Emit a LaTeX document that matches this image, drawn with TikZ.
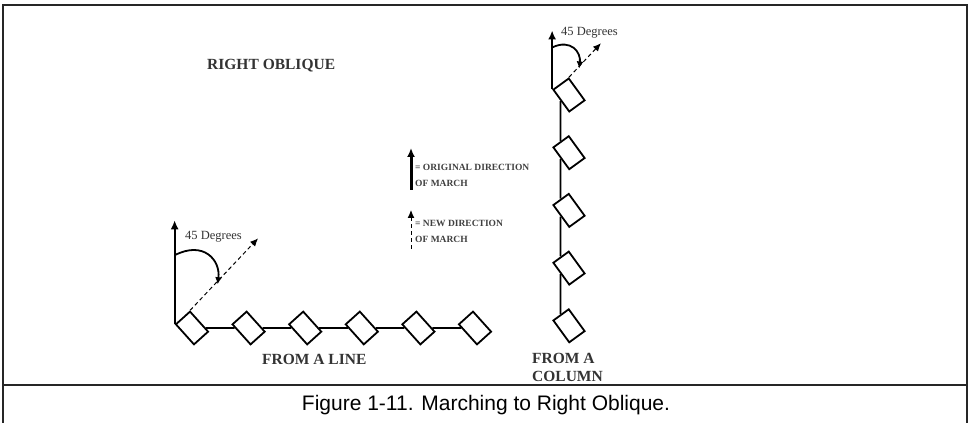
\documentclass[tikz,border=0pt]{standalone}
\usepackage{fontspec}
\setmainfont{Liberation Serif}
\newfontfamily\captionfont{Liberation Sans}
\usetikzlibrary{positioning,arrows.meta}

\tikzset{
  soldier/.style={draw, fill=white, line width=1.8pt, rectangle, inner sep=0pt},
  rank/.style={soldier, minimum width=27pt, minimum height=19pt, rotate=-48},
  file/.style={soldier, minimum width=27pt, minimum height=19pt, rotate=-54},
  link/.style={line width=1.8pt},
  march/.style={line width=2pt, -{Latex[length=9pt,width=8pt]}},
  newmarch/.style={line width=1pt, dash pattern=on 4pt off 3pt, -{Latex[length=8pt,width=7pt]}},
  turn/.style={line width=1.8pt, -{Latex[length=7pt,width=7pt]}},
  heading/.style={font=\fontsize{15.5}{18}\selectfont\bfseries, text=black!80, inner sep=0pt},
  legend/.style={font=\fontsize{9.5}{16}\selectfont\bfseries, text=black!75, align=left, anchor=west, inner sep=0pt},
  degrees/.style={font=\fontsize{12.5}{14}\selectfont, text=black!80, anchor=west, inner sep=0pt},
  frame/.style={line width=2.5pt, black!85}
}

\begin{document}
\begin{tikzpicture}[x=1pt,y=1pt,node distance=57.7pt and 56.6pt,on grid]
    \useasboundingbox (0,0) rectangle (970,423);
    \draw[frame] (3,-3) -- (3,418) -- (967,418) -- (967,-3);

    % march from a line
    \node[rank] (l1) at (192,95) {};
    \node[rank] (l2) [right=of l1] {};
    \node[rank] (l3) [right=of l2] {};
    \node[rank] (l4) [right=of l3] {};
    \node[rank] (l5) [right=of l4] {};
    \node[rank] (l6) [right=of l5] {};
    \path[link]
        (l1) edge (l2)
        (l2) edge (l3)
        (l3) edge (l4)
        (l4) edge (l5)
        (l5) edge (l6);
    \draw[march] (l1.south west) -- ++(0,104) coordinate (lefttip);
    \draw[newmarch] (l1.north west) -- ++(68,72) coordinate (leftnew);
    \draw[turn] ([yshift=69pt]l1.south west) .. controls +(29,15) and +(3,24) .. ([shift={(43pt,40pt)}]l1.south west);
    \node[degrees] (leftdeg) at (185,186) {45 Degrees};

    % march from a column
    \node[file] (c1) at (569,328) {};
    \node[file] (c2) [below=of c1] {};
    \node[file] (c3) [below=of c2] {};
    \node[file] (c4) [below=of c3] {};
    \node[file] (c5) [below=of c4] {};
    \path[link]
        (c1.south) edge (c2.west)
        (c2.south) edge (c3.west)
        (c3.south) edge (c4.west)
        (c4.south) edge (c5.west);
    \draw[march, line width=2.6pt] (c1.south west) -- ++(0,59) coordinate (columntip);
    \draw[newmarch] (c1.north west) -- ++(32,34) coordinate (columnnew);
    \draw[turn] ([yshift=42pt]c1.south west) .. controls +(19,9) and +(2,16) .. ([shift={(27pt,21pt)}]c1.south west);
    \node[degrees] (columndeg) at (561,390) {45 Degrees};

    % key
    \coordinate (origfoot) at (411,233);
    \draw[march, line width=3pt] (origfoot) -- ++(0,42) coordinate (origtip);
    \node[legend] (origtext) at (415,248) {= ORIGINAL DIRECTION\\OF MARCH};
    \coordinate (newfoot) at (411,174);
    \draw[newmarch] (newfoot) -- ++(0,39) coordinate (newtip);
    \node[legend] (newtext) at (415,192) {= NEW DIRECTION\\OF MARCH};

    \node[heading, anchor=west] (title) at (207,357) {RIGHT OBLIQUE};
    \node[heading, anchor=west] (linelabel) at (262,64) {FROM A LINE};
    \node[heading, anchor=north west, align=left] (columnlabel) at (532,70) {FROM A\\COLUMN};

    % caption
    \draw[frame, fill=white] (3,-3) -- (3,38) -- (967,38) -- (967,-3);
    \node[font=\captionfont\fontsize{21}{23}\selectfont] (caption) at (486,18) {Figure 1-11. Marching to Right Oblique.};
\end{tikzpicture}
\end{document}
